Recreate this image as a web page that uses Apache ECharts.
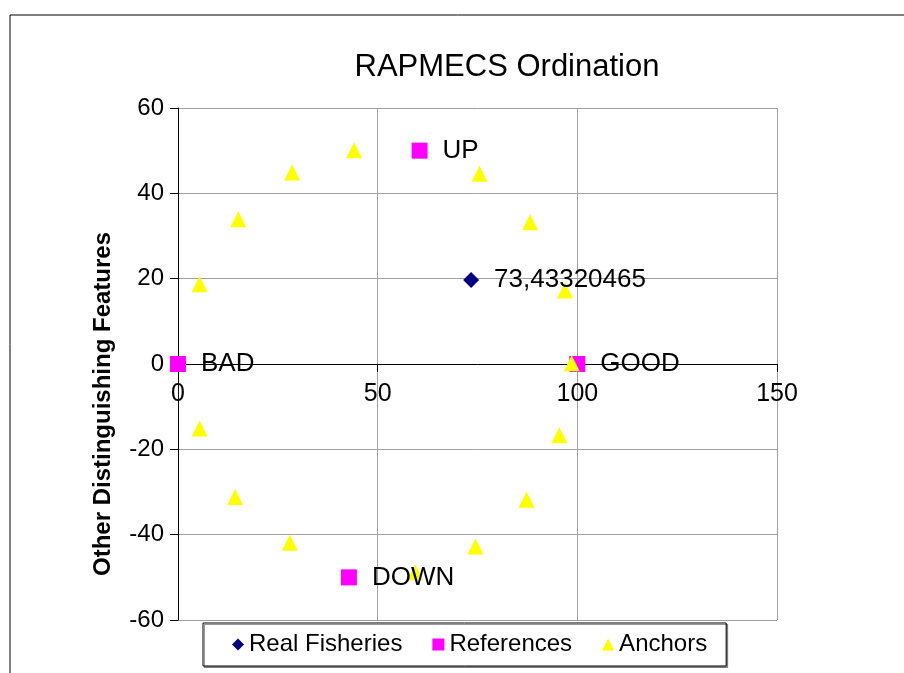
<!DOCTYPE html>
<html>
<head>
<meta charset="utf-8">
<script src="https://cdn.jsdelivr.net/npm/echarts@6/dist/echarts.min.js"></script>
<style>
  html, body { margin: 0; padding: 0; background: #fff; }
  #chart { width: 904px; height: 673px; }
</style>
</head>
<body>
<div id="chart"></div>
<script>
// anchors (yellow triangles)
const anchorX = [98.6, 96.9, 88.2, 75.5, 44.1, 28.6, 15.1, 5.4, 5.4, 14.3, 28.0, 59.4, 74.5, 87.3, 95.5];
const anchorY = [0.2, 17.2, 33.2, 44.6, 50.1, 44.9, 33.9, 18.7, -15.1, -31.2, -41.9, -48.8, -42.8, -31.8, -16.7];

// reference points (magenta squares)
const refNames = ["GOOD", "BAD", "UP", "DOWN"];
const refX = [100, 0, 60.5, 42.8];
const refY = [0, 0, 50, -50];

// real fisheries (navy diamond)
const fishLabels = ["73,43320465"];
const fishX = [73.4];
const fishY = [19.7];

const xMin = 0, xMax = 150, xStep = 50;
const yMin = -60, yMax = 60, yStep = 20;

const font = "'Liberation Sans', Arial, sans-serif";

// plot box in pixels
const gridTop = 108, gridBottom = 53, chartH = 673;

function pts(xs, ys) {
  return xs.map((x, i) => [x, ys[i]]);
}

// labels sit on top of every marker, as in the picture
const labelData = refX.map((x, i) => ({ value: [x, refY[i]], name: refNames[i] }))
  .concat(fishX.map((x, i) => ({ value: [x, fishY[i]], name: fishLabels[i] })));

// x axis crosses at y = 0: move the whole axis (line, ticks, labels) up to it
const plotH = chartH - gridTop - gridBottom;
const zeroOffset = -plotH * (0 - yMin) / (yMax - yMin);

const chart = echarts.init(document.getElementById("chart"));

chart.setOption({
  animation: false,
  title: {
    text: "RAPMECS Ordination",
    left: 502,
    textAlign: "center",
    top: 47,
    textStyle: { fontFamily: font, fontSize: 31, fontWeight: "normal", color: "#000" },
  },
  grid: { left: 178, top: gridTop, right: 127, bottom: gridBottom },
  legend: {
    data: ["Real Fisheries", "References", "Anchors"],
    left: 203,
    top: 623,
    padding: [9, 19, 9, 29],
    itemGap: 30,
    itemWidth: 12,
    itemHeight: 12,
    borderColor: "#000",
    borderWidth: 1,
    backgroundColor: "#fff",
    shadowColor: "rgba(0,0,0,0.4)",
    shadowOffsetX: 1.5,
    shadowOffsetY: 1.5,
    textStyle: { fontFamily: font, fontSize: 24, color: "#000", lineHeight: 25 },
  },
  xAxis: {
    type: "value",
    min: xMin,
    max: xMax,
    interval: xStep,
    offset: zeroOffset,
    axisLine: { onZero: false, lineStyle: { color: "#000", width: 1 } },
    axisTick: { show: true, length: 8, lineStyle: { color: "#000" } },
    axisLabel: { fontFamily: font, fontSize: 25, color: "#000", margin: 18 },
    splitLine: { show: true, lineStyle: { color: "#a0a0a0", width: 1 } },
  },
  yAxis: {
    type: "value",
    min: yMin,
    max: yMax,
    interval: yStep,
    axisLine: { show: true, lineStyle: { color: "#000", width: 1 } },
    axisTick: { show: true, length: 8, lineStyle: { color: "#000" } },
    axisLabel: { fontFamily: font, fontSize: 24, color: "#000", margin: 14 },
    splitLine: { show: true, lineStyle: { color: "#a0a0a0", width: 1 } },
  },
  graphic: [
    {
      type: "rect",
      silent: true,
      shape: { x: 10, y: 15, width: 1000, height: 1000 },
      style: { fill: null, stroke: "#000", lineWidth: 1 },
      z: -1,
    },
    {
      type: "text",
      x: 103,
      y: 404,
      rotation: Math.PI / 2,
      style: {
        text: "Other Distinguishing Features",
        fontFamily: font,
        fontSize: 24,
        fontWeight: "bold",
        fill: "#000",
        align: "center",
        verticalAlign: "middle",
      },
    },
  ],
  series: [
    {
      name: "Real Fisheries",
      type: "scatter",
      symbol: "diamond",
      symbolSize: 16,
      itemStyle: { color: "#000080", opacity: 1 },
      data: pts(fishX, fishY),
      z: 2,
    },
    {
      name: "References",
      type: "scatter",
      symbol: "rect",
      symbolSize: 16,
      itemStyle: { color: "#ff00ff", opacity: 1 },
      data: pts(refX, refY),
      z: 2,
    },
    {
      name: "Anchors",
      type: "scatter",
      symbol: "triangle",
      symbolSize: 16,
      itemStyle: { color: "#ffff00", opacity: 1 },
      data: pts(anchorX, anchorY),
      z: 3,
    },
    {
      name: "labels",
      type: "scatter",
      symbol: "rect",
      symbolSize: 16,
      silent: true,
      itemStyle: { color: "transparent", opacity: 1 },
      label: {
        show: true,
        position: "right",
        distance: 15,
        formatter: (p) => p.name,
        fontFamily: font,
        fontSize: 26,
        color: "#000",
        opacity: 1,
      },
      data: labelData,
      z: 4,
    },
  ],
});
</script>
</body>
</html>
